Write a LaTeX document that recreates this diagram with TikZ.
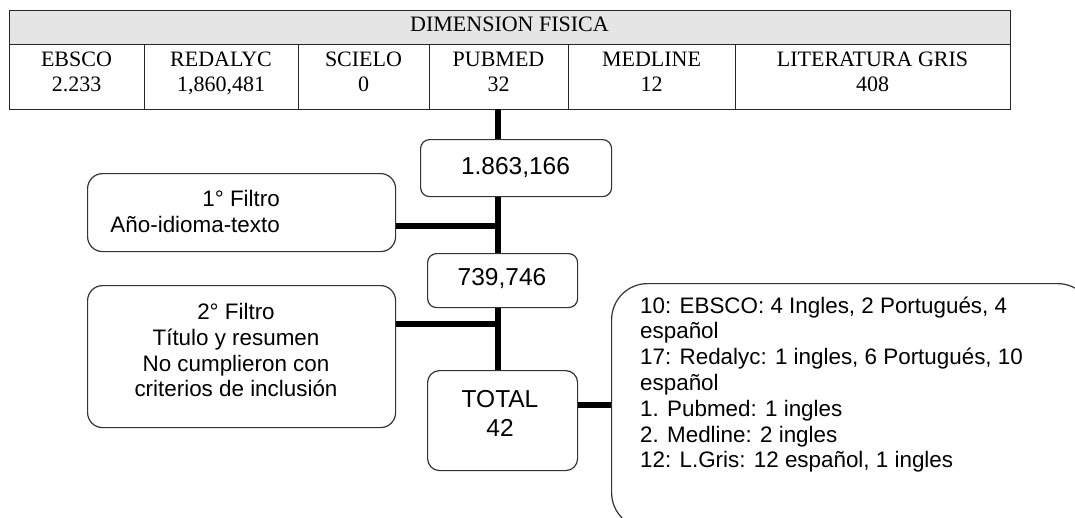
\documentclass[tikz,border=0pt]{standalone}
\usepackage{fontspec}
\setmainfont{Liberation Serif}
\newfontfamily\arialf{Liberation Sans}
\begin{document}
\begin{tikzpicture}[x=1pt,y=-1pt,
  cell/.style={draw=black!85, line width=1.4pt, anchor=north west, inner sep=0pt},
  hdrcell/.style={cell, fill=black!10},
  ttxt/.style={font=\fontsize{22}{25.5}\selectfont, align=center, anchor=north, inner sep=0pt},
  rbox/.style={draw=black!80, line width=1.2pt, rounded corners=9pt, inner sep=0pt, anchor=north west},
  conn/.style={line width=6pt, black},
  stxt/.style={font=\arialf\fontsize{22.4}{25.8}\selectfont, inner sep=0pt},
  btxt/.style={font=\arialf\fontsize{24.5}{28.6}\selectfont, inner sep=0pt},
]
\useasboundingbox (0,0) rectangle (1075,517);
\clip (0,0) rectangle (1075,517);
% table
\node[hdrcell, minimum width=1001, minimum height=34] (hd) at (9,10) {};
\node[ttxt, anchor=base] (hdt) at (509.5,31) {DIMENSION FISICA};
\node[cell, minimum width=135, minimum height=65] (c1) at (9,44) {};
\node[cell, minimum width=154, minimum height=65] (c2) at (144,44) {};
\node[cell, minimum width=131, minimum height=65] (c3) at (298,44) {};
\node[cell, minimum width=139, minimum height=65] (c4) at (429,44) {};
\node[cell, minimum width=167, minimum height=65] (c5) at (568,44) {};
\node[cell, minimum width=275, minimum height=65] (c6) at (735,44) {};
\node[ttxt] (t1) at (76.5,51.4) {EBSCO\\2.233};
\node[ttxt] (t2) at (221,51.4) {REDALYC\\1,860,481};
\node[ttxt] (t3) at (363.5,51.4) {SCIELO\\0};
\node[ttxt] (t4) at (498.5,51.4) {PUBMED\\32};
\node[ttxt] (t5) at (651.5,51.4) {MEDLINE\\12};
\node[ttxt] (t6) at (872.5,51.4) {LITERATURA GRIS\\408};
% boxes
\node[rbox, minimum width=191, minimum height=57] (b1) at (420,139) {};
\node[btxt, anchor=base] (b1t) at (515.5,174) {1.863,166};
\node[rbox, minimum width=150, minimum height=54] (b2) at (427,253) {};
\node[btxt, anchor=base] (b2t) at (502,285.8) {739,746};
\node[rbox, rounded corners=12pt, minimum width=150, minimum height=100] (tot) at (427,370) {};
\node[btxt, align=center, anchor=north] (tott) at (500,390.5) {TOTAL\\42};
\node[rbox, rounded corners=15pt, minimum width=308, minimum height=78] (f1) at (87,173) {};
\node[stxt, align=right, anchor=north east] (f1t) at (280,190.4) {1° Filtro\\Año-idioma-texto};
\node[rbox, rounded corners=15pt, minimum width=308, minimum height=142] (f2) at (87,285) {};
\node[stxt, align=center, anchor=north] (f2t) at (236,303) {2° Filtro\\Título y resumen\\No cumplieron con\\criterios de inclusión};
\node[rbox, rounded corners=36pt, minimum width=482, minimum height=245] (rb) at (611,283) {};
\node[stxt, align=left, anchor=north west] (rbt) at (640,296.4) {10: EBSCO: 4 Ingles, 2 Portugués, 4\\español\\17: Redalyc: 1 ingles, 6 Portugués, 10\\español\\1. Pubmed: 1 ingles\\2. Medline: 2 ingles\\12: L.Gris: 12 español, 1 ingles};
% connectors
\coordinate (sp) at (498,109);
\coordinate (j1) at (498,226);
\coordinate (j2) at (498,324);
\coordinate (j3) at (0,405);
\draw[conn] (sp) -- (sp |- b1.north);
\draw[conn] (b1.south -| sp) -- (b2.north -| sp);
\draw[conn] (b2.south -| sp) -- (tot.north -| sp);
\draw[conn] (f1.east |- j1) -- (j1);
\draw[conn] (f2.east |- j2) -- (j2);
\draw[conn] (tot.east |- j3) -- (rb.west |- j3);
\end{tikzpicture}
\end{document}
